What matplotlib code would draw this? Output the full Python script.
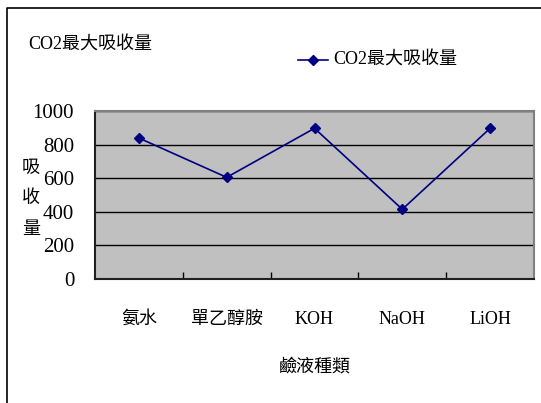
import matplotlib.pyplot as plt
import matplotlib.lines as mlines

plt.rcParams['font.family'] = ['Liberation Serif', 'Noto Sans CJK TC']

# data
categories = ["氨水", "單乙醇胺", "KOH", "NaOH", "LiOH"]
co2_uptake = [839, 605, 897, 415, 897]
series_name = "CO2最大吸收量"

fig = plt.figure(figsize=(5.41, 4.03), dpi=100)
ax = fig.add_axes([95 / 541, 1 - 279 / 403, 439 / 541, 168 / 403])

ax.set_facecolor("#c0c0c0")
x = range(len(categories))
ax.plot(x, co2_uptake, color="#000080", lw=1.2, marker="D", ms=5,
        mfc="#000080", mec="#000080", zorder=3)

ax.set_xlim(-0.5, len(categories) - 0.5)
ax.set_ylim(0, 1000)
ax.set_yticks(range(0, 1001, 200))
ax.set_xticks([i + 0.5 for i in range(len(categories) - 1)])
ax.set_xticklabels([])
ax.tick_params(axis="x", direction="in", length=5, width=1)
ax.tick_params(axis="y", length=0, labelsize=15, pad=15)
for i, c in enumerate(categories):
    ax.text(i, -0.24, c, transform=ax.get_xaxis_transform(), ha="center",
            va="center", fontsize=13)

ax.grid(axis="y", color="black", lw=1)
ax.set_axisbelow(True)
for s in ["top", "right"]:
    ax.spines[s].set_color("#808080")
    ax.spines[s].set_linewidth(1.5)
for s in ["left", "bottom"]:
    ax.spines[s].set_color("#202020")
    ax.spines[s].set_linewidth(1.5)

# titles and labels
fig.text(28 / 541, 1 - 45 / 403, series_name, fontsize=13, va="center", ha="left")
fig.text(31 / 541, 1 - 199 / 403, "吸\n收\n量", fontsize=13, ha="center",
         va="center", linespacing=2.05)
fig.text(315 / 541, 1 - 367 / 403, "鹼液種類", fontsize=13, ha="center", va="center")

# legend
fig.lines.append(mlines.Line2D([298 / 541, 328 / 541], [1 - 60 / 403] * 2,
                               transform=fig.transFigure, color="#000080", lw=1.2))
fig.lines.append(mlines.Line2D([313 / 541], [1 - 60 / 403], transform=fig.transFigure,
                               marker="D", ms=5, color="#000080"))
fig.text(333 / 541, 1 - 60 / 403, series_name, fontsize=13, va="center", ha="left")

# outer frame
fig.lines.append(mlines.Line2D([6.5 / 541, 6.5 / 541, 1], [0, 1 - 8 / 403, 1 - 8 / 403],
                               transform=fig.transFigure, color="black", lw=1.2))

fig.savefig("out.png", dpi=100)
